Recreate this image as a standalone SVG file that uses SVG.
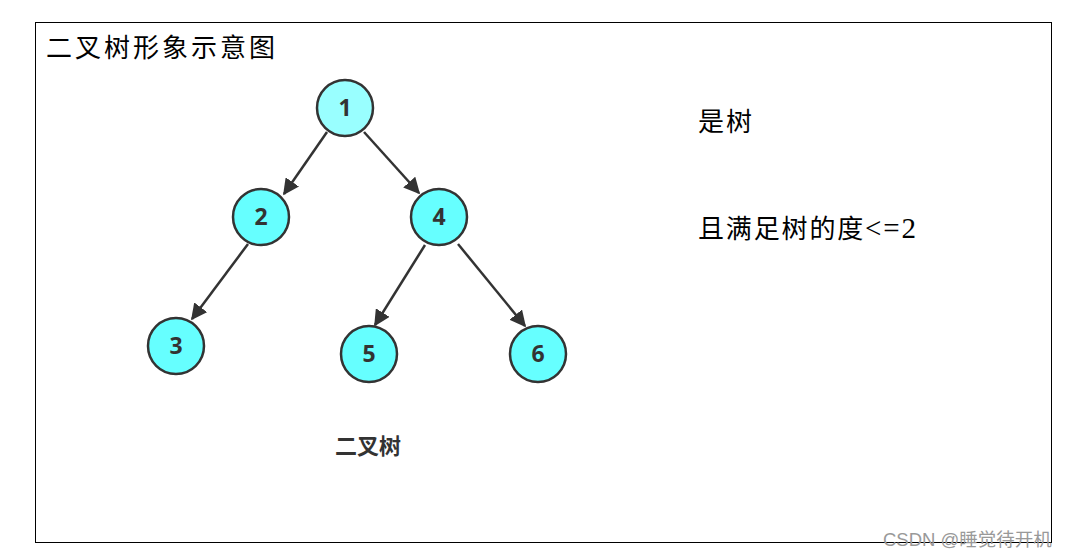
<svg xmlns="http://www.w3.org/2000/svg" width="1070" height="558" viewBox="0 0 1070 558">
<style>
.node circle{stroke:#333;stroke-width:2.5}
.node text{font-family:"Open Sans","Noto Sans",sans-serif;font-weight:bold;font-size:23px;fill:#333;text-anchor:middle}
.edge{stroke:#333;stroke-width:2.5;fill:none;marker-end:url(#ah)}
.cn{font-family:"Liberation Serif","Noto Sans CJK SC",serif;font-size:26px;fill:#000}
</style>
<defs>
<marker id="ah" viewBox="0 0 10 10" refX="9" refY="5" markerWidth="6.5" markerHeight="6.5" markerUnits="strokeWidth" orient="auto">
<path d="M0,0 L10,5 L0,10 z" fill="#333"/>
</marker>
</defs>
<rect x="0" y="0" width="1070" height="558" fill="#fff"/>
<rect x="35.5" y="22.5" width="1016" height="520" fill="none" stroke="#000" stroke-width="1"/>
<text class="cn" x="46" y="57" textLength="229" lengthAdjust="spacing">二叉树形象示意图</text>
<text class="cn" x="698" y="131" textLength="54" lengthAdjust="spacing">是树</text>
<text class="cn" x="698" y="238" textLength="218" lengthAdjust="spacing">且满足树的度<tspan font-size="29">&lt;=2</tspan></text>
<g id="connectors">
<line class="edge" x1="327" y1="132" x2="284" y2="194"/>
<line class="edge" x1="364" y1="132" x2="419" y2="193"/>
<line class="edge" x1="248" y1="244" x2="192" y2="319"/>
<line class="edge" x1="425" y1="245" x2="375" y2="325"/>
<line class="edge" x1="458" y1="244" x2="525" y2="326"/>
</g>
<g id="n1" class="node"><circle cx="345" cy="108" r="28" fill="#99ffff"/><text x="345" y="116">1</text></g>
<g id="n2" class="node"><circle cx="261" cy="217" r="28" fill="#66ffff"/><text x="261" y="225">2</text></g>
<g id="n4" class="node"><circle cx="439" cy="217" r="28" fill="#66ffff"/><text x="439" y="225">4</text></g>
<g id="n3" class="node"><circle cx="176" cy="346" r="28" fill="#66ffff"/><text x="176" y="354">3</text></g>
<g id="n5" class="node"><circle cx="369" cy="354" r="28" fill="#66ffff"/><text x="369" y="362">5</text></g>
<g id="n6" class="node"><circle cx="538" cy="354" r="28" fill="#66ffff"/><text x="538" y="362">6</text></g>
<text x="368" y="454" text-anchor="middle" font-family="'Noto Sans CJK SC',sans-serif" font-weight="bold" font-size="22" fill="#333">二叉树</text>
<text x="883" y="546" font-family="'Liberation Sans','Noto Sans CJK SC',sans-serif" font-size="18.5" fill="#999">CSDN @睡觉待开机</text>
</svg>
